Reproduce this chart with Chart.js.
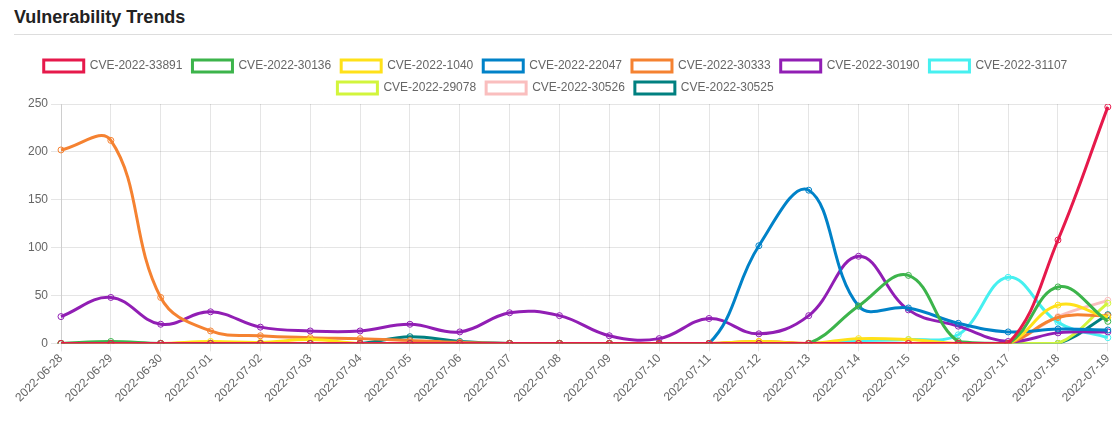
<!DOCTYPE html>
<html>
<head>
<meta charset="utf-8">
<script src="https://cdn.jsdelivr.net/npm/chart.js@4/dist/chart.umd.min.js"></script>
<style>
  html, body { margin: 0; padding: 0; background: #fff; }
  body { width: 1118px; height: 428px; position: relative; overflow: hidden; font-family: "Liberation Sans", Arial, Helvetica, sans-serif; }
  #title { position: absolute; left: 14px; top: 7px; font-size: 18px; font-weight: bold; color: #222; }
  #rule { position: absolute; left: 14px; top: 34px; width: 1098px; height: 0; border-top: 1px solid #ddd; }
  #wrap { position: absolute; left: 0px; top: 50px; width: 1118px; height: 355px; }
</style>
</head>
<body>
<div id="title">Vulnerability Trends</div>
<div id="rule"></div>
<div id="wrap"><canvas id="c"></canvas></div>
<script>
const dates = ["2022-06-28","2022-06-29","2022-06-30","2022-07-01","2022-07-02","2022-07-03","2022-07-04","2022-07-05","2022-07-06","2022-07-07","2022-07-08","2022-07-09","2022-07-10","2022-07-11","2022-07-12","2022-07-13","2022-07-14","2022-07-15","2022-07-16","2022-07-17","2022-07-18","2022-07-19"];
const seriesNames = ["CVE-2022-33891","CVE-2022-30136","CVE-2022-1040","CVE-2022-22047","CVE-2022-30333","CVE-2022-30190","CVE-2022-31107","CVE-2022-29078","CVE-2022-30526","CVE-2022-30525"];
const cve33891 = [0,0,0,0,0,0,0,0,0,0,0,0,0,0,0,0,0,0,0,0,108,247];
const cve30136 = [0,2,0,0,0,0,0,0,0,0,0,0,0,0,0,0,39,71,2,0,59,23];
const cve1040  = [0,0,0,2,1,4,0,0,0,0,0,0,0,0,2,0,5,4,0,0,40,27];
const cve22047 = [0,0,0,0,0,0,0,0,0,0,0,0,0,0,102,160,39,37,21,12,15,14];
const cve30333 = [202,212,48,13,8,6,5,3,1,0,0,0,0,0,2,0,0,0,0,0,27,29];
const cve30190 = [28,48,20,33,17,13,13,20,12,32,29,8,5,26,10,29,91,35,18,2,11,12];
const cve31107 = [0,0,0,0,0,0,0,0,0,0,0,0,0,0,0,0,3,4,9,69,22,6];
const cve29078 = [0,0,0,0,0,0,0,0,0,0,0,0,0,0,0,0,0,0,0,0,0,42];
const cve30526 = [0,0,0,0,0,0,0,0,0,0,0,0,0,0,0,0,0,0,0,0,28,45];
const cve30525 = [0,0,0,0,0,0,0,7,2,0,0,0,0,0,0,0,0,0,0,0,0,30];
const colors = ["#e6194b","#3cb44b","#ffe119","#0082c8","#f58231","#911eb4","#46f0f0","#d2f53c","#fabebe","#008080"];
const seriesValues = [cve33891,cve30136,cve1040,cve22047,cve30333,cve30190,cve31107,cve29078,cve30526,cve30525];

Chart.defaults.font.family = '"Liberation Sans", Arial, Helvetica, sans-serif';
Chart.defaults.font.size = 12;
Chart.defaults.color = '#666';

const datasets = seriesNames.map((n, i) => ({
  label: n,
  data: seriesValues[i],
  borderColor: colors[i],
  backgroundColor: 'rgba(255,255,255,0)',
  pointBorderColor: colors[i],
  pointBackgroundColor: 'rgba(255,255,255,0)',
  borderWidth: 3,
  pointRadius: 3,
  pointBorderWidth: 1,
  tension: 0.4,
  fill: false
}));

new Chart(document.getElementById('c'), {
  type: 'line',
  data: { labels: dates, datasets },
  options: {
    responsive: true,
    maintainAspectRatio: false,
    animation: false,
    layout: { padding: { left: 0, right: 7, top: 0, bottom: 0 } },
    plugins: {
      legend: {
        display: true,
        position: 'top',
        labels: { boxWidth: 40, boxHeight: 12, padding: 10, color: '#666', font: { size: 12 } }
      },
      tooltip: { enabled: false }
    },
    scales: {
      x: {
        grid: { color: 'rgba(0,0,0,0.1)', tickLength: 8 },
        ticks: { color: '#666', minRotation: 45, maxRotation: 45, autoSkip: false, padding: 0, font: { size: 12 } }
      },
      y: {
        min: 0, max: 250,
        afterFit: (s) => { s.width = 61; },
        grid: { color: 'rgba(0,0,0,0.1)', tickLength: 10 },
        ticks: { stepSize: 50, color: '#666', font: { size: 12 } }
      }
    }
  }
});
</script>
</body>
</html>
